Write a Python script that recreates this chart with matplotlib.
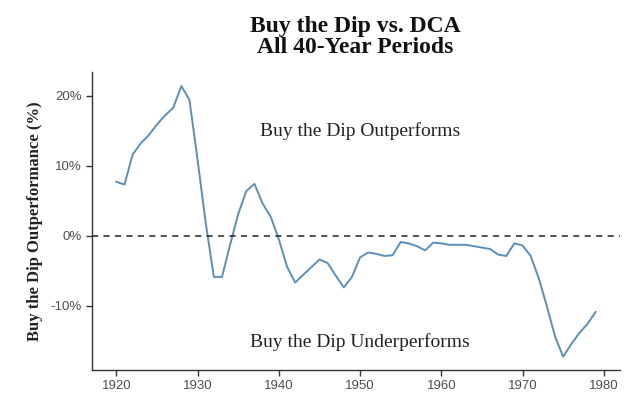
import matplotlib
matplotlib.use("Agg")
import matplotlib.pyplot as plt
from matplotlib.ticker import FuncFormatter

# starting year of each 40-year period
years = list(range(1920, 1980))

# Buy the Dip minus DCA return, percent
outperf = [
    7.7, 7.3, 11.6, 13.2, 14.4, 15.9, 17.2, 18.3, 21.4, 19.4,
    10.8, 1.8, -5.9, -5.9, -1.3, 3.1, 6.4, 7.4, 4.6, 2.7,
    -0.5, -4.4, -6.7, -5.6, -4.5, -3.4, -3.9, -5.7, -7.4, -5.9,
    -3.1, -2.4, -2.6, -2.9, -2.8, -0.9, -1.1, -1.5, -2.1, -1.0,
    -1.1, -1.3, -1.3, -1.3, -1.5, -1.7, -1.9, -2.7, -2.9, -1.1,
    -1.4, -2.9, -6.1, -10.1, -14.4, -17.3, -15.5, -13.9, -12.6, -10.9,
]

title_lines = ["Buy the Dip vs. DCA", "All 40-Year Periods"]
ylabel = "Buy the Dip Outperformance (%)"
label_above = "Buy the Dip Outperforms"
label_below = "Buy the Dip Underperforms"

SERIF = ["Liberation Serif", "DejaVu Serif"]
SANS = ["Liberation Sans", "DejaVu Sans"]
AXIS_GREY = "#333333"

W, H = 640, 405
fig = plt.figure(figsize=(W / 100, H / 100), dpi=100)
ax = fig.add_axes([92 / W, 1 - 370 / H, (620 - 92) / W, (370 - 72) / H])

ax.plot(years, outperf, color="#5b8fb9", lw=1.4)
ax.axhline(0, color="#222222", lw=1.1, ls=(0, (4, 3.5)))

ax.text(1950, 15, label_above, ha="center", va="center",
        family=SERIF, fontsize=14, color="#222222")
ax.text(1950, -15.2, label_below, ha="center", va="center",
        family=SERIF, fontsize=14, color="#222222")

ax.set_xlim(1917, 1982)
ax.set_ylim(-19.2, 23.4)
ax.set_xticks(range(1920, 1990, 10))
ax.set_yticks([-10, 0, 10, 20])
ax.yaxis.set_major_formatter(FuncFormatter(lambda v, _: f"{v:.0f}%"))

for side in ("top", "right"):
    ax.spines[side].set_visible(False)
for side in ("left", "bottom"):
    ax.spines[side].set_color(AXIS_GREY)
    ax.spines[side].set_linewidth(1.0)

ax.tick_params(direction="out", length=4, width=1, color=AXIS_GREY,
               labelcolor="#4d4d4d", labelsize=9.5)
for lab in ax.get_xticklabels() + ax.get_yticklabels():
    lab.set_family(SANS)

ax.set_ylabel(ylabel, family=SERIF, fontsize=12, fontweight="bold",
              color="#222222", labelpad=5)

# two title lines placed by their baselines
for line, base_y in zip(title_lines, (32, 53)):
    fig.text(355 / W, 1 - base_y / H, line, ha="center", va="baseline",
             family=SERIF, fontsize=17, fontweight="bold", color="#111111")

fig.savefig("out.png", dpi=100, facecolor="white")
plt.close(fig)
